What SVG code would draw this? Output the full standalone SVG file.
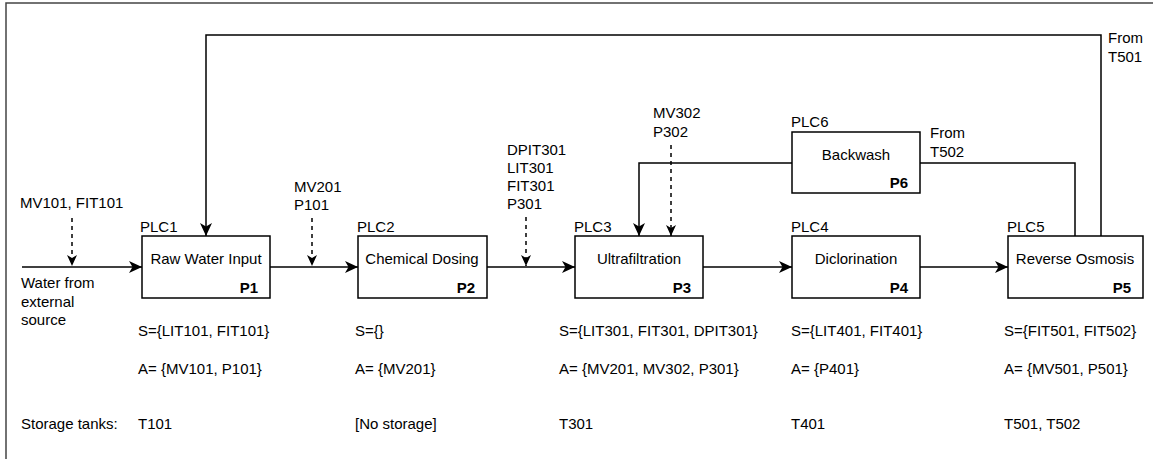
<svg xmlns="http://www.w3.org/2000/svg" width="1153" height="459" viewBox="0 0 1153 459">
<style>
text{font-family:"Liberation Sans",Arial,sans-serif;font-size:15px;fill:#000}
.b{font-weight:bold;text-anchor:end}
.c{text-anchor:middle}
.box{fill:#fff;stroke:#000;stroke-width:1.5}
.ln{fill:none;stroke:#000;stroke-width:1.5}
.dash{fill:none;stroke:#000;stroke-width:1.5;stroke-dasharray:4,4}
</style>
<defs>
<marker id="ah" markerUnits="userSpaceOnUse" markerWidth="14" markerHeight="12" refX="13" refY="6" orient="auto">
<path d="M0,0 L13,6 L0,12 L3.5,6 Z" fill="#000"/>
</marker>
<marker id="ahs" markerUnits="userSpaceOnUse" markerWidth="12" markerHeight="10" refX="11" refY="5" orient="auto">
<path d="M0,0 L11,5 L0,10 L3,5 Z" fill="#000"/>
</marker>
</defs>
<rect x="6" y="3" width="1170" height="480" fill="none" stroke="#444" stroke-width="1.5"/>
<g id="connectors">
<path class="ln" d="M22,267 H142" marker-end="url(#ah)"/>
<path class="ln" d="M270,267 H358" marker-end="url(#ah)"/>
<path class="ln" d="M487,267 H575" marker-end="url(#ah)"/>
<path class="ln" d="M703,267 H792" marker-end="url(#ah)"/>
<path class="ln" d="M920,267 H1008" marker-end="url(#ah)"/>
<path class="ln" d="M1101,237 V35 H206 V236" marker-end="url(#ah)"/>
<path class="ln" d="M792,163 H639 V236" marker-end="url(#ah)"/>
<path class="ln" d="M920,163 H1075 V237"/>
<path class="dash" d="M72,218 V266" marker-end="url(#ahs)"/>
<path class="dash" d="M312,218 V266" marker-end="url(#ahs)"/>
<path class="dash" d="M526,217 V266" marker-end="url(#ahs)"/>
<path class="dash" d="M671,145 V236" marker-end="url(#ahs)"/>
</g>
<g id="labels">
<text x="20" y="208">MV101, FIT101</text>
<text x="21" y="288">Water from</text>
<text x="21" y="307">external</text>
<text x="21" y="325">source</text>
<text x="294" y="192">MV201</text>
<text x="294" y="210">P101</text>
<text x="507" y="155">DPIT301</text>
<text x="507" y="173">LIT301</text>
<text x="507" y="191">FIT301</text>
<text x="507" y="209">P301</text>
<text x="653" y="118">MV302</text>
<text x="653" y="137">P302</text>
<text x="1108" y="43">From</text>
<text x="1108" y="62">T501</text>
<text x="930" y="138">From</text>
<text x="930" y="157">T502</text>
</g>
<g id="P1">
<text x="140" y="232">PLC1</text>
<rect class="box" x="142" y="236" width="128" height="62"/>
<text class="c" x="206" y="264">Raw Water Input</text>
<text class="b" x="258" y="293">P1</text>
</g>
<g id="P2">
<text x="357" y="232">PLC2</text>
<rect class="box" x="358" y="236" width="129" height="62"/>
<text class="c" x="422" y="264">Chemical Dosing</text>
<text class="b" x="475" y="293">P2</text>
</g>
<g id="P3">
<text x="574" y="232">PLC3</text>
<rect class="box" x="575" y="236" width="128" height="62"/>
<text class="c" x="639" y="264">Ultrafiltration</text>
<text class="b" x="691" y="293">P3</text>
</g>
<g id="P4">
<text x="791" y="232">PLC4</text>
<rect class="box" x="792" y="236" width="128" height="62"/>
<text class="c" x="856" y="264">Diclorination</text>
<text class="b" x="908" y="293">P4</text>
</g>
<g id="P5">
<text x="1007" y="232">PLC5</text>
<rect class="box" x="1008" y="236" width="135" height="62"/>
<text class="c" x="1075" y="264">Reverse Osmosis</text>
<text class="b" x="1131" y="293">P5</text>
</g>
<g id="P6">
<text x="791" y="127">PLC6</text>
<rect class="box" x="792" y="132" width="128" height="61"/>
<text class="c" x="856" y="160">Backwash</text>
<text class="b" x="908" y="188">P6</text>
</g>
<g id="table">
<text x="138" y="336">S={LIT101, FIT101}</text>
<text x="355" y="336">S={}</text>
<text x="559" y="336">S={LIT301, FIT301, DPIT301}</text>
<text x="791" y="336">S={LIT401, FIT401}</text>
<text x="1004" y="336">S={FIT501, FIT502}</text>
<text x="138" y="374">A= {MV101, P101}</text>
<text x="355" y="374">A= {MV201}</text>
<text x="559" y="374">A= {MV201, MV302, P301}</text>
<text x="791" y="374">A= {P401}</text>
<text x="1004" y="374">A= {MV501, P501}</text>
<text x="21" y="429">Storage tanks:</text>
<text x="138" y="429">T101</text>
<text x="355" y="429">[No storage]</text>
<text x="559" y="429">T301</text>
<text x="791" y="429">T401</text>
<text x="1004" y="429">T501, T502</text>
</g>
</svg>
